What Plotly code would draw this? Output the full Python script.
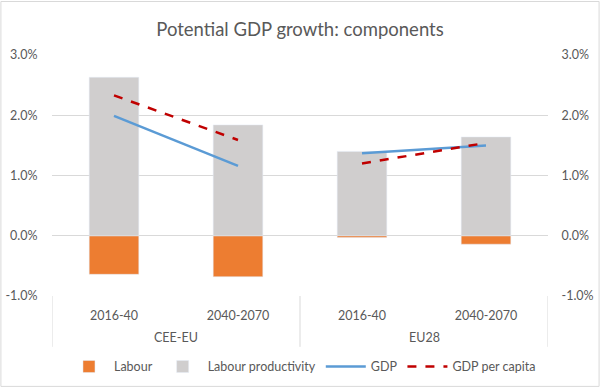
import plotly.graph_objects as go

groups = ["CEE-EU", "EU28"]
periods = ["2016-40", "2040-2070", "2016-40", "2040-2070"]
labour = [-0.64, -0.68, -0.03, -0.14]
productivity = [2.63, 1.84, 1.40, 1.64]
gdp = [1.99, 1.16, 1.37, 1.50]
gdp_pc = [2.33, 1.59, 1.20, 1.54]
yticks = [-1, 0, 1, 2, 3]
yticklabels = ["-1.0%", "0.0%", "1.0%", "2.0%", "3.0%"]

xs = list(range(len(periods)))
font = "Lato, Liberation Sans, Arial, sans-serif"
txt = "#595959"
grid = "#D9D9D9"

fig = go.Figure()
fig.add_bar(x=xs, y=labour, name="Labour", marker_color="#ED7D31", width=0.4)
fig.add_bar(x=xs, y=productivity, name="Labour productivity", marker_color="#D0CECE", width=0.4)
for gi in range(2):
    sl = slice(2 * gi, 2 * gi + 2)
    fig.add_scatter(x=xs[sl], y=gdp[sl], mode="lines", name="GDP",
                    line=dict(color="#5B9BD5", width=2.5), legendgroup="gdp",
                    showlegend=(gi == 0))
for gi in range(2):
    sl = slice(2 * gi, 2 * gi + 2)
    fig.add_scatter(x=xs[sl], y=gdp_pc[sl], mode="lines", name="GDP per capita",
                    line=dict(color="#C00000", width=2.5, dash="dash"), legendgroup="pc",
                    showlegend=(gi == 0))
fig.add_scatter(x=[0], y=[0], yaxis="y2", mode="markers", marker=dict(opacity=0),
                showlegend=False, hoverinfo="skip")

# group labels and dividers
for gi, g in enumerate(groups):
    fig.add_annotation(x=2 * gi + 0.5, y=-0.174, xref="x", yref="paper", text=g,
                       yanchor="middle", showarrow=False,
                       font=dict(size=12.5, color=txt, family=font))
for xv in [-0.5, 1.5, 3.5]:
    fig.add_shape(type="line", x0=xv, x1=xv, y0=0, y1=-0.211, xref="x", yref="paper",
                  line=dict(color=grid, width=1))
# outer border
fig.add_shape(type="rect", xref="paper", yref="paper", x0=-0.103, x1=1.103,
              y0=-0.375, y1=1.222, line=dict(color=grid, width=1))

fig.update_layout(
    width=600, height=388,
    margin=dict(l=52, r=52, t=55, b=92, autoexpand=False),
    paper_bgcolor="white", plot_bgcolor="white",
    barmode="relative",
    font=dict(family=font, size=12.5, color=txt),
    title=dict(text="Potential GDP growth: components", x=0.5, xanchor="center",
               y=0.925, yanchor="middle", font=dict(size=18.5, color=txt, family=font)),
    xaxis=dict(range=[-0.5, 3.5], tickvals=xs, ticktext=periods, showgrid=False,
               zeroline=False, ticks="outside", ticklen=8, tickcolor="rgba(0,0,0,0)",
               showline=False, fixedrange=True, automargin=False),
    yaxis=dict(range=[-1, 3], tickvals=yticks, ticktext=yticklabels, showgrid=True,
               gridcolor=grid, zeroline=False, ticks="outside", ticklen=11,
               tickcolor="rgba(0,0,0,0)", automargin=False),
    yaxis2=dict(range=[-1, 3], tickvals=yticks, ticktext=yticklabels, overlaying="y",
                side="right", showgrid=False, zeroline=False, ticks="outside", ticklen=10,
                tickcolor="rgba(0,0,0,0)", automargin=False),
    legend=dict(orientation="h", x=0.505, xanchor="center", y=-0.294, yanchor="middle",
                itemwidth=40,
                font=dict(size=12.5, color=txt, family=font), traceorder="normal"),
    showlegend=True,
)

fig.write_html("out.html", config={"displayModeBar": False},
               post_script="document.body.style.margin='0px';document.body.style.overflow='hidden';")
